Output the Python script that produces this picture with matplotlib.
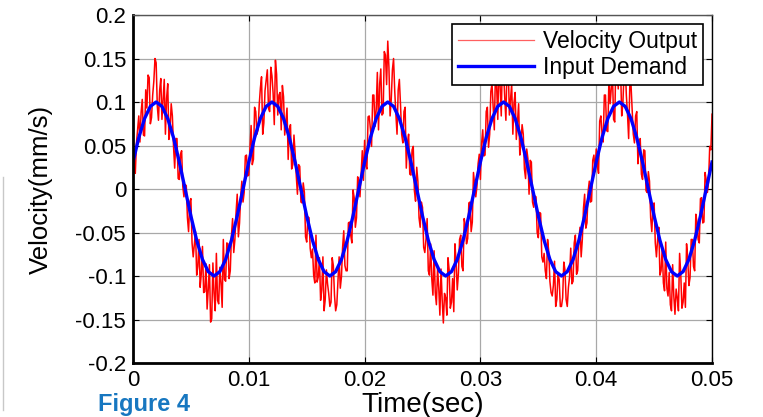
import matplotlib.pyplot as plt
import numpy as np
from matplotlib.lines import Line2D

plt.rcParams['font.family'] = ['Liberation Sans', 'DejaVu Sans']

# input demand, sampled every 0.5 ms (mm/s)
input_demand = [
    0.031, 0.059, 0.081, 0.095, 0.100, 0.095, 0.081, 0.059, 0.031, 0.000,
    -0.031, -0.059, -0.081, -0.095, -0.100, -0.095, -0.081, -0.059, -0.031, 0.000,
    0.031, 0.059, 0.081, 0.095, 0.100, 0.095, 0.081, 0.059, 0.031, 0.000,
    -0.031, -0.059, -0.081, -0.095, -0.100, -0.095, -0.081, -0.059, -0.031, 0.000,
    0.031, 0.059, 0.081, 0.095, 0.100, 0.095, 0.081, 0.059, 0.031, 0.000,
    -0.031, -0.059, -0.081, -0.095, -0.100, -0.095, -0.081, -0.059, -0.031, 0.000,
    0.031, 0.059, 0.081, 0.095, 0.100, 0.095, 0.081, 0.059, 0.031, 0.000,
    -0.031, -0.059, -0.081, -0.095, -0.100, -0.095, -0.081, -0.059, -0.031, 0.000,
    0.031, 0.059, 0.081, 0.095, 0.100, 0.095, 0.081, 0.059, 0.031, 0.000,
    -0.031, -0.059, -0.081, -0.095, -0.100, -0.095, -0.081, -0.059, -0.031, 0.000,
    0.031,
]
t_demand = np.linspace(0, 0.05, len(input_demand))

# measured velocity output, sampled every 0.1 ms (in 0.001 mm/s)
velocity_output_um = [
    51, 27, 18, 53, 69, 84, 54, 88, 103, 62, 61, 114, 93, 131, 128, 75, 82, 108, 124, 150,
    145, 95, 79, 113, 127, 80, 103, 126, 63, 104, 121, 57, 68, 98, 84, 49, 24, 58, 58, 12,
    11, 40, 44, 3, -9, 5, 4, -33, -49, -15, -11, -62, -78, -63, -49, -99, -89, -58, -113, -97,
    -66, -119, -118, -86, -138, -115, -87, -153, -149, -85, -120, -140, -74, -128, -132, -90, -108, -136, -58, -104,
    -106, -62, -63, -103, -94, -54, -34, -73, -58, -27, -6, -55, -39, -8, 9, -15, -4, 38, 39, 15,
    16, 47, 73, 28, 34, 94, 89, 63, 68, 97, 116, 129, 63, 76, 113, 125, 137, 93, 89, 140,
    130, 110, 74, 148, 132, 85, 108, 111, 68, 119, 106, 62, 78, 93, 34, 69, 74, 23, 28, 62,
    41, 15, -6, 28, 26, -15, -16, 7, -4, -55, -61, -32, -33, -68, -79, -69, -99, -108, -53, -107,
    -101, -79, -128, -116, -78, -140, -127, -93, -109, -120, -135, -130, -79, -88, -122, -140, -133, -106, -78, -114,
    -101, -67, -48, -88, -94, -94, -39, -38, -53, -62, -1, -10, -44, -33, 14, 10, -9, 18, 44, 10,
    56, 27, 23, 83, 84, 69, 49, 108, 108, 72, 91, 134, 68, 121, 138, 85, 87, 158, 154, 120,
    170, 140, 84, 103, 137, 150, 113, 86, 63, 114, 126, 97, 63, 53, 89, 94, 24, 53, 63, 17,
    16, 45, 49, -2, -14, 25, 9, -33, -44, -15, -21, -67, -73, -58, -34, -94, -99, -63, -103, -122,
    -71, -119, -133, -91, -113, -145, -92, -128, -154, -120, -125, -145, -79, -93, -137, -130, -103, -141, -63, -84,
    -116, -97, -58, -53, -89, -94, -34, -43, -63, -57, -16, -15, -49, -38, 19, 5, -9, 3, 29, 40,
    11, 52, 68, 38, 39, 89, 94, 48, 63, 112, 121, 94, 68, 136, 118, 80, 147, 118, 84, 150,
    135, 105, 79, 143, 142, 85, 103, 121, 63, 99, 111, 57, 78, 98, 39, 54, 74, 63, 23, 12,
    46, 35, -6, 33, 31, -15, -21, -8, -9, -50, -56, -27, -28, -78, -84, -74, -94, -103, -58, -72,
    -106, -119, -123, -111, -83, -135, -127, -98, -104, -135, -135, -125, -84, -93, -127, -135, -113, -101, -68, -109,
    -106, -62, -53, -98, -94, -59, -44, -78, -58, -22, -6, -45, -39, -3, 9, -15, -14, 33, 39, 20,
    46, 27, 18, 78, 84, 64, 54, 108, 108, 67, 66, 129, 98, 116, 133, 80, 77, 153, 144, 115,
    160, 140, 84, 98, 132, 145, 108, 86, 58, 119, 121, 92, 63, 53, 84, 89, 29, 48, 58, 17,
    11, 45, 44, -2, -4, 20, 9, -33, -49, -20, -16, -62, -78, -58, -44, -99, -94, -68, -108, -117,
    -61, -114, -123, -96, -133, -140, -87, -123, -144, -115, -125, -140, -74, -98, -137, -130, -108, -136, -63, -79,
    -111, -102, -58, -58, -89, -94, -29, -38, -58, -62, -11, -10, -39, -38, 19, 10, -4, 8, 49, 45,
    86,
]
velocity_output = np.array(velocity_output_um) / 1000.0
t_output = np.linspace(0, 0.05, len(velocity_output))

x_ticks = [0, 0.01, 0.02, 0.03, 0.04, 0.05]
x_labels = ['0', '0.01', '0.02', '0.03', '0.04', '0.05']
y_ticks = [-0.2, -0.15, -0.1, -0.05, 0, 0.05, 0.1, 0.15, 0.2]
y_labels = ['-0.2', '-0.15', '-0.1', '-0.05', '0', '0.05', '0.1', '0.15', '0.2']

fig = plt.figure(figsize=(7.63, 4.17), dpi=100)
ax = fig.add_axes([0.1743, 0.1295, 0.7589, 0.8345])

ax.plot(t_output, velocity_output, color='#ff0000', linewidth=1.1, label='Velocity Output')
ax.plot(t_demand, input_demand, color='#0000ff', linewidth=2.4, label='Input Demand')

ax.set_xlim(0, 0.05)
ax.set_ylim(-0.2, 0.2)
ax.set_xticks(x_ticks)
ax.set_xticklabels(x_labels)
ax.set_yticks(y_ticks)
ax.set_yticklabels(y_labels)
ax.tick_params(direction='in', length=4, labelsize=16, top=True, right=True, pad=5)
ax.grid(True, color='#a8a8a8', linewidth=0.9)

ax.spines['left'].set_linewidth(2)
ax.spines['bottom'].set_linewidth(2)
ax.spines['top'].set_linewidth(1)
ax.spines['right'].set_linewidth(1)
ax.spines['top'].set_color('#555555')

ax.set_xlabel('Time(sec)', fontsize=20, labelpad=1)
ax.set_ylabel('Velocity(mm/s)', fontsize=18.5, labelpad=16)

leg = ax.legend(loc='upper right', fontsize=16.5, handlelength=3.3, handletextpad=0.4,
                borderpad=0.25, labelspacing=0.15, fancybox=False, framealpha=1,
                borderaxespad=0.4)
leg.get_frame().set_edgecolor('black')
leg.get_frame().set_linewidth(1.2)
leg.get_lines()[0].set_color('#ff6060')
leg.get_lines()[0].set_linewidth(0.9)

fig.text(98 / 763, 1 / 417, 'Figure 4', color='#1777c0', fontsize=17,
         fontweight='bold', va='bottom', ha='left')
fig.add_artist(Line2D([3 / 763, 3 / 763], [7 / 417, 240 / 417], color='#c8c8c8', linewidth=1))

fig.savefig('out.png', dpi=100)
